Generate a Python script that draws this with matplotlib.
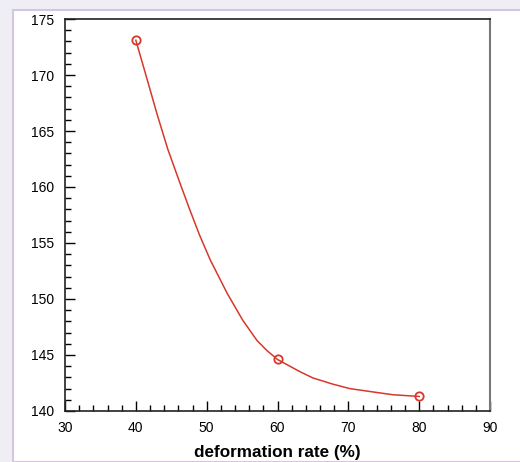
import matplotlib
matplotlib.use("Agg")
import matplotlib.pyplot as plt
from matplotlib.patches import Rectangle
from matplotlib.ticker import MultipleLocator

plt.rcParams["font.family"] = ["Liberation Sans", "DejaVu Sans"]

# measured points (markers)
rate = [40, 60, 80]
value = [173.1, 144.6, 141.3]

# curve
curve_x = [40, 41.6, 43.0, 44.5, 46.2, 47.6, 49.0, 50.5, 52.9, 55.1, 57.1, 58.5,
           60, 63.2, 65.0, 67.8, 70.2, 73.5, 76.3, 80]
curve_y = [173.1, 169.6, 166.5, 163.4, 160.4, 158.0, 155.7, 153.5, 150.5, 148.1,
           146.3, 145.4, 144.6, 143.5, 142.95, 142.4, 142.0, 141.7, 141.45, 141.3]

red = "#d8372c"

fig = plt.figure(figsize=(5.2, 4.62), dpi=100)
fig.patch.set_facecolor("#f0eef5")
# white panel with lavender border
fig.patches.append(Rectangle((13 / 520, 0), 1.0, (462 - 10) / 462, transform=fig.transFigure,
                             facecolor="white", edgecolor="#d3c6df", linewidth=1.5, zorder=-10))

ax = fig.add_axes([65 / 520, 51 / 462, 425 / 520, 392 / 462])
ax.set_facecolor("none")

ax.plot(curve_x, curve_y, color=red, lw=1.1)
ax.plot(rate, value, linestyle="none", marker="o", ms=6, mfc="none", mec=red, mew=1.3)

ax.set_xlim(30, 90)
ax.set_ylim(140, 175)
ax.xaxis.set_major_locator(MultipleLocator(10))
ax.xaxis.set_minor_locator(MultipleLocator(2))
ax.yaxis.set_major_locator(MultipleLocator(5))
ax.yaxis.set_minor_locator(MultipleLocator(1))
ax.tick_params(which="both", direction="in", top=False, right=False, labelsize=10, width=1)
ax.tick_params(which="major", length=7)
ax.tick_params(which="minor", length=4)
ax.tick_params(axis="x", pad=7.5)
ax.tick_params(axis="y", pad=8)

for s in ["left", "bottom", "top"]:
    ax.spines[s].set_linewidth(1.2)
    ax.spines[s].set_color("#222222")
ax.spines["right"].set_color("#777777")
ax.spines["right"].set_linewidth(1.5)

ax.set_xlabel("deformation rate (%)", fontsize=12.3, fontweight="bold", labelpad=7)

fig.savefig("out.png", dpi=100, facecolor=fig.get_facecolor())
